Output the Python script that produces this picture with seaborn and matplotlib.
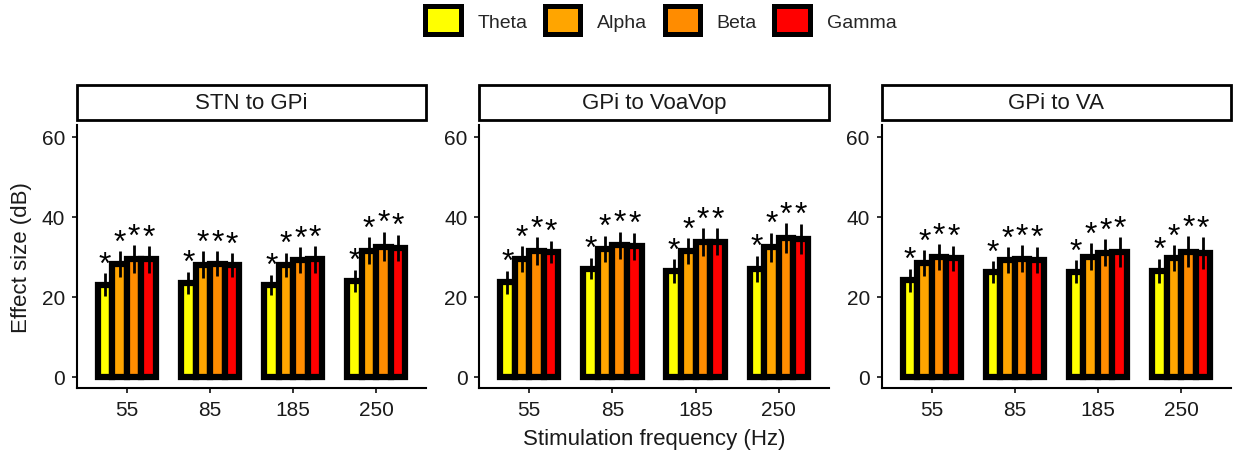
import numpy as np
import pandas as pd
import matplotlib
matplotlib.use("Agg")
import matplotlib.pyplot as plt
import seaborn as sns
from matplotlib.patches import Patch, Rectangle

frequencies = ["55", "85", "185", "250"]
bands = ["Theta", "Alpha", "Beta", "Gamma"]
band_colors = ["#FFFF00", "#FFA500", "#FF8C00", "#FF0000"]
pathways = ["STN to GPi", "GPi to VoaVop", "GPi to VA"]

# Mean effect size (dB): one row per band, one column per stimulation frequency
stn_gpi_mean = [[23.0, 23.4, 22.9, 23.9],
                [28.1, 28.0, 27.9, 31.5],
                [29.4, 28.2, 29.2, 32.5],
                [29.3, 27.8, 29.3, 32.2]]
gpi_voavop_mean = [[23.6, 27.0, 26.3, 27.0],
                   [29.4, 32.0, 31.3, 32.3],
                   [31.4, 32.8, 33.6, 34.6],
                   [31.2, 32.6, 33.7, 34.4]]
gpi_va_mean = [[24.1, 26.1, 26.2, 26.5],
               [28.3, 29.1, 30.0, 29.6],
               [29.8, 29.5, 31.0, 31.2],
               [29.6, 29.2, 31.1, 30.9]]

# Standard error (dB), same layout
stn_gpi_se = [[2.8, 2.8, 2.6, 2.8],
              [3.25, 3.3, 3.1, 3.3],
              [3.5, 3.1, 3.2, 3.7],
              [3.3, 3.0, 3.3, 3.25]]
gpi_voavop_se = [[2.9, 2.7, 3.0, 3.25],
                 [3.25, 3.25, 3.25, 3.7],
                 [3.5, 3.4, 3.5, 3.75],
                 [2.8, 3.4, 3.4, 3.8]]
gpi_va_se = [[2.9, 2.8, 2.9, 3.0],
             [3.25, 3.3, 3.3, 3.3],
             [3.25, 3.3, 3.4, 3.9],
             [3.1, 3.3, 3.8, 4.0]]

# Significance marks
stn_gpi_sig = [["*"] * 4] * 4
gpi_voavop_sig = [["*"] * 4] * 4
gpi_va_sig = [["*"] * 4] * 4

means = [stn_gpi_mean, gpi_voavop_mean, gpi_va_mean]
ses = [stn_gpi_se, gpi_voavop_se, gpi_va_se]
sigs = [stn_gpi_sig, gpi_voavop_sig, gpi_va_sig]

rows = []
for p, path in enumerate(pathways):
    for b, band in enumerate(bands):
        for f, freq in enumerate(frequencies):
            rows.append(dict(pathway=path, band=band, freq=freq,
                             mean=means[p][b][f], se=ses[p][b][f],
                             sig=sigs[p][b][f]))
df = pd.DataFrame(rows)

sns.set_style("ticks")
plt.rcParams["font.family"] = ["Liberation Sans", "DejaVu Sans"]

W, H = 1235, 456
fig, axes = plt.subplots(1, 3, figsize=(W / 100, H / 100), dpi=100)
fig.subplots_adjust(left=77 / W, right=1231 / W, bottom=1 - 389.3 / H,
                    top=1 - 126 / H, wspace=0.152)

palette = dict(zip(bands, band_colors))

for ax, path in zip(axes, pathways):
    sub = df[df.pathway == path]
    sns.barplot(data=sub, x="freq", y="mean", hue="band", order=frequencies,
                hue_order=bands, palette=palette, saturation=1, width=0.7,
                gap=0, edgecolor="black", linewidth=4.5, errorbar=None,
                legend=False, ax=ax)
    for b, band in enumerate(bands):
        bars = ax.containers[b]
        xs = [r.get_x() + r.get_width() / 2 for r in bars]
        d = sub[sub.band == band].set_index("freq").loc[frequencies]
        ax.errorbar(xs, d["mean"], yerr=d["se"], fmt="none", ecolor="black",
                    elinewidth=2.0, capsize=0, zorder=4)
        for x, m, s, lab in zip(xs, d["mean"], d["se"], d["sig"]):
            ax.annotate(lab, (x, m + s), xytext=(0, 0.3),
                        textcoords="offset points", ha="center",
                        va="baseline", fontsize=23, color="black", zorder=5)

    ax.set_xlim(-0.6, 3.6)
    ax.set_ylim(-2.95, 62.9)
    ax.set_yticks([0, 20, 40, 60])
    ax.set_xlabel("")
    ax.set_ylabel("")
    sns.despine(ax=ax)
    for sp in ("left", "bottom"):
        ax.spines[sp].set_linewidth(1.5)
        ax.spines[sp].set_color("black")
    ax.tick_params(axis="both", length=3.6, width=1.4, color="#333333",
                   labelsize=15, labelcolor="#1a1a1a", pad=5)

    # facet strip
    ax_h = 389.3 - 126
    y0 = (389.3 - 121.3) / ax_h
    y1 = (389.3 - 85.7) / ax_h
    ax.add_patch(Rectangle((0, y0), 1, y1 - y0, transform=ax.transAxes,
                           facecolor="white", edgecolor="black", lw=2,
                           clip_on=False))
    ax.text(0.5, (y0 + y1) / 2, path, transform=ax.transAxes, ha="center",
            va="center", fontsize=16, color="#1a1a1a")

fig.text(654 / W, 1 - 445 / H, "Stimulation frequency (Hz)", ha="center",
         va="baseline", fontsize=16, color="#1a1a1a")
fig.text(22 / W, 1 - 257.5 / H, "Effect size (dB)", ha="center",
         va="center", rotation=90, fontsize=16, color="#1a1a1a")

handles = [Patch(facecolor=c, edgecolor="black", linewidth=3.6, label=b)
           for b, c in zip(bands, band_colors)]
fig.legend(handles=handles, loc="center", bbox_to_anchor=(660.8 / W, 1 - 21.4 / H),
           ncol=4, frameon=False, fontsize=14, handlelength=1.83,
           handleheight=1.83, handletextpad=0.85, columnspacing=0.9,
           borderaxespad=0, borderpad=0)

fig.savefig("out.png", dpi=100)
